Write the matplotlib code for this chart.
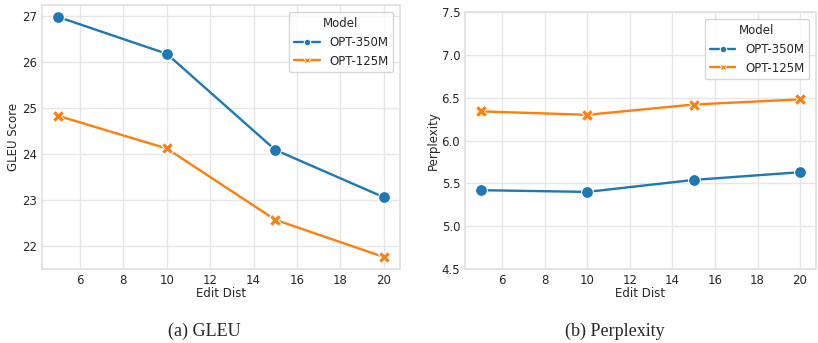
import numpy as np
import pandas as pd
import matplotlib
matplotlib.use("Agg")
import matplotlib.pyplot as plt
import seaborn as sns

edit_dist = [5, 10, 15, 20]
models = ["OPT-350M", "OPT-125M"]
gleu_350m = [26.98, 26.18, 24.09, 23.06]
gleu_125m = [24.83, 24.12, 22.57, 21.76]
ppl_350m = [5.42, 5.40, 5.54, 5.63]
ppl_125m = [6.34, 6.30, 6.42, 6.48]

def make_df(vals_350, vals_125, col):
    rows = []
    for m, vals in zip(models, [vals_350, vals_125]):
        for d, v in zip(edit_dist, vals):
            rows.append({"Edit Dist": d, "Model": m, col: v})
    return pd.DataFrame(rows)

gleu_df = make_df(gleu_350m, gleu_125m, "GLEU Score")
ppl_df = make_df(ppl_350m, ppl_125m, "Perplexity")

sns.set_theme(style="whitegrid", palette="tab10",
              rc={"grid.color": "#e6e6e6", "axes.edgecolor": "#e0e0e0"})
plt.rcParams['font.family'] = ['DejaVu Sans']

fig = plt.figure(figsize=(8.18, 3.43), dpi=100)
W, H = 818, 343
ax1 = fig.add_axes([42 / W, 1 - 269 / H, (400 - 42) / W, (269 - 5) / H])
ax2 = fig.add_axes([465 / W, 1 - 269 / H, (816 - 465) / W, (269 - 12) / H])

for ax, df, col in [(ax1, gleu_df, "GLEU Score"), (ax2, ppl_df, "Perplexity")]:
    sns.lineplot(data=df, x="Edit Dist", y=col, hue="Model", style="Model",
                 markers=True, dashes=False, markersize=8.5, linewidth=1.7, ax=ax)
    ax.tick_params(labelsize=8.5, length=0, pad=3.5)
    ax.set_xlabel("Edit Dist", fontsize=8.5, labelpad=0)
    ax.set_ylabel(col, fontsize=8.5, labelpad=1.5)
    ax.legend(title="Model", fontsize=8.5, title_fontsize=8.5, loc="upper right",
              markerscale=0.55, handlelength=2.2, borderaxespad=0.6)

ax1.set_xticks([6, 8, 10, 12, 14, 16, 18, 20])
ax2.set_xticks([6, 8, 10, 12, 14, 16, 18, 20])
ax2.set_ylim(4.5, 7.5)
ax2.set_yticks(np.arange(4.5, 7.51, 0.5))

fig.text(204 / W, 1 - 331 / H, "(a) GLEU", ha="center", va="center",
         family="Liberation Serif", fontsize=13)
fig.text(615 / W, 1 - 331 / H, "(b) Perplexity", ha="center", va="center",
         family="Liberation Serif", fontsize=13)

fig.savefig("out.png", dpi=100)
